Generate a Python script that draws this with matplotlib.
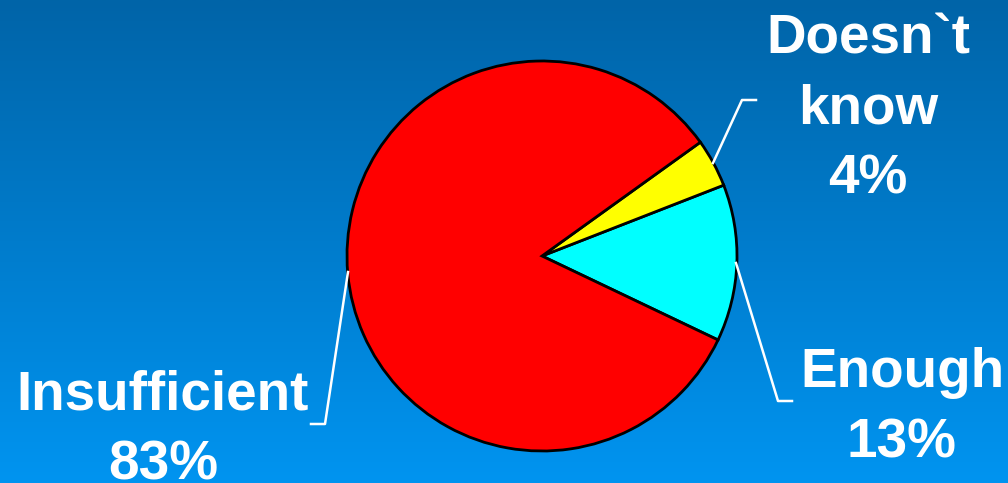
import numpy as np
import matplotlib.pyplot as plt
from matplotlib.colors import LinearSegmentedColormap

labels = ["Enough", "Doesn`t\nknow", "Insufficient"]
shares = [13, 4, 83]
colors = ["#00ffff", "#ffff00", "#ff0000"]

W, H = 1008, 483
fig = plt.figure(figsize=(W / 100, H / 100), dpi=100)
ax = fig.add_axes([0, 0, 1, 1])
ax.set_xlim(0, W)
ax.set_ylim(0, H)
ax.set_aspect("equal")
ax.axis("off")

# blue vertical gradient background
bg = LinearSegmentedColormap.from_list("bg", ["#0064a8", "#0094f0"])
grad = np.linspace(0, 1, 256).reshape(-1, 1)
ax.imshow(grad, cmap=bg, extent=(0, W, 0, H), aspect="auto", origin="upper", zorder=0)

cx, cy, r = 542, H - 256, 195
wedges, _ = ax.pie(shares, colors=colors, startangle=-25.5, counterclock=True,
                   center=(cx, cy), radius=r, frame=True,
                   wedgeprops=dict(edgecolor="black", linewidth=2))
ax.set_xlim(0, W)
ax.set_ylim(0, H)
ax.axis("off")

# leader lines (pixel coords, y from top) and label positions
leaders = [
    [(736, 263), (778, 401), (792, 401)],
    [(713, 163), (742, 100), (756, 100)],
    [(348, 272), (325, 424), (311, 424)],
]
text_pos = [(902, 387), (868, 53), (163, 410)]

for lab, pct, ln, (tx, ty) in zip(labels, shares, leaders, text_pos):
    xs = [p[0] for p in ln]
    ys = [H - p[1] for p in ln]
    ax.plot(xs, ys, color="white", lw=1.8, zorder=5)
    lines = lab.split("\n") + [f"{pct}%"]
    for i, s in enumerate(lines):
        ax.text(tx, H - (ty + i * 70), s, ha="center", va="baseline",
                color="white", fontsize=39.5, fontweight="bold",
                family="Liberation Sans", zorder=6)

fig.savefig("out.png", dpi=100)
